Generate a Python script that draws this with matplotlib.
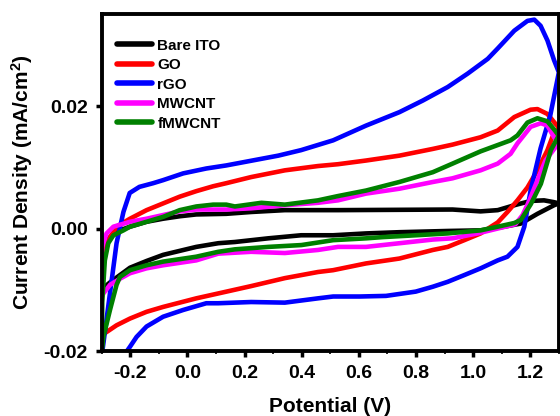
import matplotlib
matplotlib.use("Agg")
import matplotlib.pyplot as plt
from matplotlib.ticker import MultipleLocator

plt.rcParams['font.family'] = ['Liberation Sans', 'DejaVu Sans']
plt.rcParams['font.weight'] = 'bold'
plt.rcParams['mathtext.fontset'] = 'custom'
plt.rcParams['mathtext.rm'] = 'Liberation Sans:bold'
plt.rcParams['mathtext.bf'] = 'Liberation Sans:bold'
plt.rcParams['mathtext.default'] = 'bf'

# Cyclic voltammograms: potential (V) and current density (mA/cm^2),
# anodic sweep from -0.3 V to 1.3 V followed by the cathodic return sweep.
labels = ["Bare ITO", "GO", "rGO", "MWCNT", "fMWCNT"]
colors = ["black", "red", "blue", "magenta", "green"]

bare_ito_E = [-0.300, -0.298, -0.294, -0.271, -0.236, -0.201, -0.143, -0.085, -0.027, 0.031,
              0.136, 0.223, 0.341, 0.527, 0.928, 1.026, 1.086, 1.144, 1.201, 1.248, 1.283, 1.300,
              1.283, 1.225, 1.166, 1.109, 1.026, 0.911, 0.742, 0.625, 0.510, 0.398, 0.283, 0.166,
              0.108, 0.031, -0.085, -0.143, -0.201, -0.236, -0.271, -0.294, -0.300]
bare_ito_j = [-0.0100, -0.0045, -0.0030, -0.0014, -0.0003, 0.0003, 0.0011, 0.0016, 0.0020, 0.0023,
              0.0024, 0.0027, 0.0030, 0.0030, 0.0031, 0.0028, 0.0030, 0.0038, 0.0045, 0.0046, 0.0043, 0.0041,
              0.0038, 0.0024, 0.0008, 0.0003, -0.0003, -0.0004, -0.0006, -0.0008, -0.0011, -0.0011, -0.0016, -0.0022,
              -0.0024, -0.0030, -0.0043, -0.0053, -0.0064, -0.0076, -0.0088, -0.0097, -0.0100]

go_E = [-0.300, -0.300, -0.290, -0.269, -0.248, -0.201, -0.143, -0.085, -0.027, 0.031, 0.090,
        0.136, 0.223, 0.341, 0.457, 0.527, 0.625, 0.742, 0.859, 0.928, 1.026, 1.086, 1.144, 1.201,
        1.225, 1.260, 1.288, 1.300,
        1.277, 1.260, 1.225, 1.190, 1.155, 1.120, 1.086, 1.026, 0.969, 0.911, 0.859, 0.742, 0.625,
        0.510, 0.457, 0.341, 0.223, 0.108, 0.031, -0.085, -0.143, -0.201, -0.248, -0.283, -0.300]
go_j = [-0.0174, -0.0055, -0.0035, -0.0013, 0.0003, 0.0016, 0.0030, 0.0041, 0.0052, 0.0061, 0.0069,
        0.0074, 0.0084, 0.0095, 0.0102, 0.0105, 0.0111, 0.0119, 0.0130, 0.0137, 0.0149, 0.0160, 0.0182, 0.0194,
        0.0195, 0.0187, 0.0171, 0.0165,
        0.0149, 0.0128, 0.0095, 0.0067, 0.0046, 0.0027, 0.0010, -0.0008, -0.0019, -0.0030, -0.0035, -0.0049, -0.0057,
        -0.0068, -0.0071, -0.0081, -0.0094, -0.0106, -0.0114, -0.0128, -0.0136, -0.0147, -0.0158, -0.0169, -0.0174]

rgo_E = [-0.300, -0.297, -0.248, -0.224, -0.202, -0.168, -0.120, -0.085, -0.015, 0.066, 0.136,
         0.318, 0.398, 0.510, 0.625, 0.742, 0.824, 0.911, 0.981, 1.051, 1.086, 1.144, 1.190, 1.214,
         1.236, 1.260, 1.283, 1.300,
         1.270, 1.236, 1.201, 1.179, 1.155, 1.120, 1.086, 1.026, 0.969, 0.911, 0.859, 0.799, 0.695,
         0.603, 0.510, 0.457, 0.341, 0.223, 0.108, 0.066, -0.015, -0.085, -0.143, -0.178, -0.201,
         -0.213, -0.230]
rgo_j = [-0.0240, -0.0198, -0.0024, 0.0027, 0.0058, 0.0068, 0.0074, 0.0079, 0.0090, 0.0098, 0.0103,
         0.0119, 0.0128, 0.0144, 0.0168, 0.0190, 0.0209, 0.0231, 0.0253, 0.0277, 0.0294, 0.0323, 0.0339, 0.0341,
         0.0331, 0.0307, 0.0275, 0.0255,
         0.0185, 0.0131, 0.0062, 0.0003, -0.0030, -0.0046, -0.0052, -0.0065, -0.0076, -0.0087, -0.0095, -0.0103, -0.0110,
         -0.0111, -0.0111, -0.0114, -0.0121, -0.0120, -0.0122, -0.0122, -0.0133, -0.0144, -0.0160, -0.0177, -0.0193,
         -0.0201, -0.0235]

mwcnt_E = [-0.300, -0.298, -0.283, -0.259, -0.201, -0.143, -0.085, -0.027, 0.031, 0.136, 0.223,
           0.341, 0.457, 0.527, 0.625, 0.742, 0.859, 0.928, 1.026, 1.086, 1.131, 1.155, 1.201, 1.237,
           1.260, 1.283, 1.300,
           1.253, 1.225, 1.197, 1.173, 1.148, 1.086, 1.016, 0.928, 0.859, 0.742, 0.625, 0.527, 0.457,
           0.341, 0.223, 0.108, 0.031, -0.085, -0.143, -0.201, -0.236, -0.271, -0.294, -0.300]
mwcnt_j = [-0.0112, -0.0030, -0.0008, 0.0003, 0.0011, 0.0016, 0.0022, 0.0028, 0.0031, 0.0031, 0.0033,
           0.0038, 0.0042, 0.0046, 0.0057, 0.0065, 0.0076, 0.0082, 0.0095, 0.0106, 0.0122, 0.0139, 0.0166, 0.0172,
           0.0168, 0.0149, 0.0140,
           0.0111, 0.0079, 0.0046, 0.0022, 0.0007, 0.0000, -0.0008, -0.0016, -0.0018, -0.0024, -0.0030, -0.0030, -0.0035,
           -0.0040, -0.0038, -0.0041, -0.0052, -0.0060, -0.0065, -0.0073, -0.0082, -0.0092, -0.0106, -0.0112]

fmwcnt_E = [-0.300, -0.298, -0.294, -0.289, -0.277, -0.259, -0.224, -0.201, -0.143, -0.085, -0.027,
            0.031, 0.090, 0.136, 0.166, 0.259, 0.341, 0.457, 0.527, 0.625, 0.742, 0.859, 0.928, 1.026,
            1.131, 1.155, 1.190, 1.225, 1.260, 1.288, 1.300,
            1.272, 1.237, 1.202, 1.167, 1.144, 1.086, 1.026, 0.911, 0.800, 0.684, 0.626, 0.510, 0.399,
            0.283, 0.166, 0.108, 0.031, -0.085, -0.143, -0.201, -0.236, -0.248, -0.271, -0.294, -0.300]
fmwcnt_j = [-0.0202, -0.0120, -0.0089, -0.0052, -0.0024, -0.0011, -0.0003, 0.0003, 0.0011, 0.0019, 0.0030,
            0.0036, 0.0039, 0.0039, 0.0036, 0.0042, 0.0039, 0.0046, 0.0053, 0.0062, 0.0076, 0.0092, 0.0106, 0.0126,
            0.0144, 0.0152, 0.0173, 0.0180, 0.0175, 0.0159, 0.0152,
            0.0128, 0.0073, 0.0040, 0.0014, 0.0009, 0.0003, -0.0003, -0.0008, -0.0011, -0.0014, -0.0016, -0.0019, -0.0027,
            -0.0030, -0.0034, -0.0038, -0.0046, -0.0054, -0.0060, -0.0068, -0.0079, -0.0092, -0.0133, -0.0177, -0.0202]

series = [(bare_ito_E, bare_ito_j), (go_E, go_j), (rgo_E, rgo_j),
          (mwcnt_E, mwcnt_j), (fmwcnt_E, fmwcnt_j)]

fig = plt.figure(figsize=(5.6, 4.16), dpi=100)
ax = fig.add_axes([0.1816, 0.1562, 0.8164, 0.8098])

for (E, j), lab, col in zip(series, labels, colors):
    ax.plot(E, j, color=col, lw=3.3, label=lab, solid_joinstyle='round',
            solid_capstyle='round')

ax.set_xlim(-0.3, 1.3)
ax.set_ylim(-0.02, 0.035)
ax.xaxis.set_minor_locator(MultipleLocator(0.1))
ax.set_xticks([-0.2, 0.0, 0.2, 0.4, 0.6, 0.8, 1.0, 1.2])
ax.set_xticklabels(["-0.2", "0.0", "0.2", "0.4", "0.6", "0.8", "1.0", "1.2"])
ax.set_yticks([-0.02, 0.0, 0.02])
ax.set_yticklabels(["-0.02", "0.00", "0.02"])

for s in ax.spines.values():
    s.set_linewidth(2.8)
ax.tick_params(axis='both', which='major', direction='out', length=4, width=2.5,
               labelsize=14, pad=6)
ax.tick_params(axis='x', which='minor', direction='out', length=2.5, width=1.2)
for t in ax.get_xticklabels() + ax.get_yticklabels():
    t.set_fontweight('bold')

ax.set_xlabel("Potential (V)", fontsize=15, fontweight='bold', labelpad=11)
ax.set_ylabel("Current Density (mA/cm$^{2}$)", fontsize=15, fontweight='bold', labelpad=6)

leg = ax.legend(loc='upper left', frameon=False, fontsize=11, handlelength=2.3,
                handletextpad=0.35, labelspacing=0.36, borderaxespad=0.6,
                bbox_to_anchor=(0.0, 0.973))
for t in leg.get_texts():
    t.set_fontweight('bold')
for h in leg.get_lines():
    h.set_linewidth(4)

fig.savefig("out.png", dpi=100)
